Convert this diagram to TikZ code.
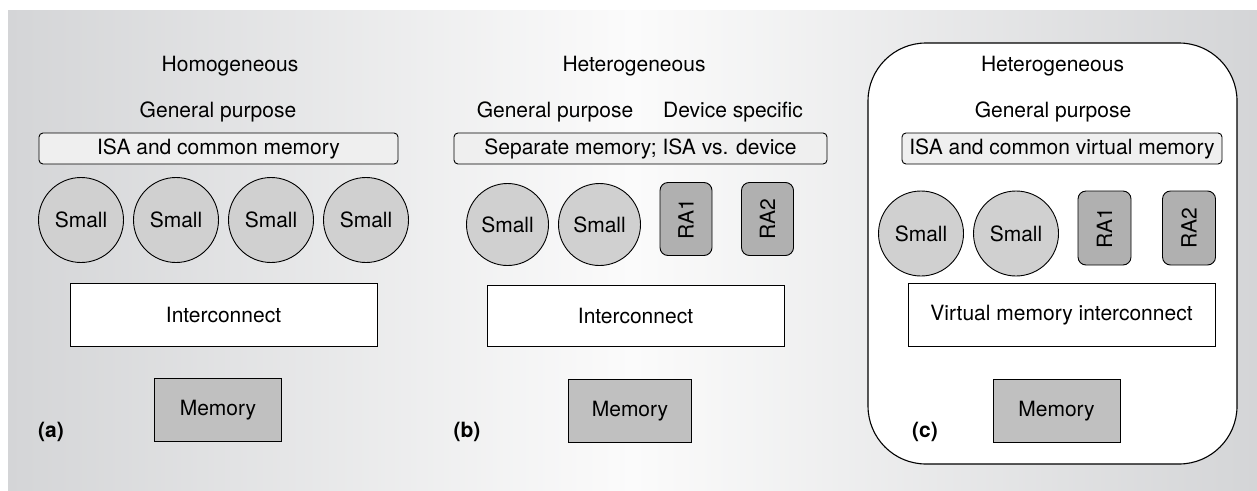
\documentclass[tikz,border=0pt]{standalone}
\usepackage{fontspec}
\setmainfont{TeX Gyre Heros}
\definecolor{bgside}{RGB}{212,213,215}
\definecolor{bgmid}{RGB}{251,251,251}
\definecolor{isafill}{RGB}{239,239,239}
\definecolor{smallfill}{RGB}{208,208,208}
\definecolor{rafill}{RGB}{176,176,176}
\definecolor{memfill}{RGB}{192,192,192}
\usepackage{tikz}

\begin{document}
\begin{tikzpicture}[x=1pt,y=-1pt,line width=0.9pt,
  every node/.style={font=\fontsize{21}{25}\selectfont},
  isabox/.style={draw,fill=isafill,rounded corners=4pt,minimum height=31pt,inner sep=0pt},
  smallcore/.style={draw,circle,fill=smallfill,minimum size=85pt,inner sep=0pt},
  racore/.style={draw,fill=rafill,rounded corners=8pt,rotate=90,minimum width=73pt,minimum height=52pt,inner sep=0pt},
  icbox/.style={draw,fill=white,minimum height=63pt,inner sep=0pt},
  membox/.style={draw,fill=memfill,minimum width=127pt,minimum height=63pt,inner sep=0pt},
  tag/.style={font=\fontsize{21}{25}\selectfont\bfseries}]

\newcommand\TitleY{66}
\newcommand\SubY{112}
\newcommand\IsaY{148.5}

  %% background
  \useasboundingbox (0,0) rectangle (1257,490);
  \shade[left color=bgside,right color=bgside,middle color=bgmid] (8,10) rectangle (1257,490);

  %% (a) homogeneous
  \node (homA) at (230,\TitleY) {Homogeneous};
  \node (genA) at (218,\SubY) {General purpose};
  \node[isabox,minimum width=359pt] (isaA) at (218.5,\IsaY) {ISA and common memory};
  \foreach \x [count=\i] in {81,176,271,366}
    \node[smallcore] (smA\i) at (\x,220) {Small};
  \node[icbox,minimum width=307pt] (icA) at (223.5,315) {Interconnect};
  \node[membox] (memA) at (218,410) {Memory};
  \node[tag] (labA) at (51,432) {(a)};

  %% (b) heterogeneous, separate memory
  \node (hetB) at (634,\TitleY) {Heterogeneous};
  \node (genB) at (555,\SubY) {General purpose};
  \node (devB) at (733,\SubY) {Device specific};
  \node[isabox,minimum width=373pt] (isaB) at (640.5,\IsaY) {Separate memory; ISA vs. device};
  \node[smallcore,minimum size=82pt] (smB1) at (507.5,224.5) {Small};
  \node[smallcore,minimum size=82pt] (smB2) at (599.5,224.5) {Small};
  \node[racore] (raB1) at (686,219) {RA1};
  \node[racore] (raB2) at (767.5,219) {RA2};
  \node[icbox,minimum width=297pt,minimum height=61pt] (icB) at (635.5,316) {Interconnect};
  \node[membox,minimum width=123pt] (memB) at (630,411) {Memory};
  \node[tag] (labB) at (467,432) {(b)};

  %% (c) heterogeneous, virtual memory
  \draw[fill=white,line width=1.1pt,rounded corners=58pt] (868,43) rectangle (1237,464);
  \node (hetC) at (1052.5,\TitleY) {Heterogeneous};
  \node (genC) at (1053,\SubY) {General purpose};
  \node[isabox,minimum width=320pt] (isaC) at (1062,\IsaY) {ISA and common virtual memory};
  \node[smallcore] (smC1) at (921,233.5) {Small};
  \node[smallcore] (smC2) at (1016,233.5) {Small};
  \node[racore,minimum width=74pt,minimum height=53pt] (raC1) at (1104.5,228) {RA1};
  \node[racore,minimum width=74pt,minimum height=53pt] (raC2) at (1189,228) {RA2};
  \node[icbox,minimum width=307pt] (icC) at (1061.5,315) {Virtual memory interconnect};
  \node[membox] (memC) at (1056.5,411) {Memory};
  \node[tag] (labC) at (925,432) {(c)};

\end{tikzpicture}
\end{document}
